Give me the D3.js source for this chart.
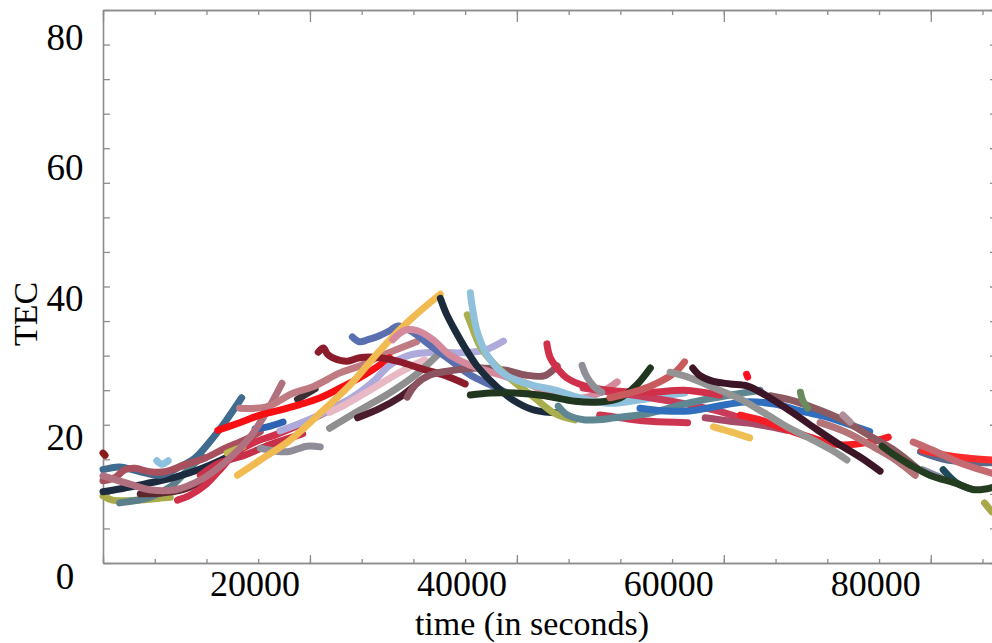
<!DOCTYPE html>
<html>
<head>
<meta charset="utf-8">
<script src="https://d3js.org/d3.v7.min.js"></script>
<style>
html,body{margin:0;padding:0;background:#ffffff;}
svg{display:block;}
</style>
</head>
<body>
<div id="chart"></div>
<script>
;(function(){

	// -----------------------------------------------------------------
	// Data : every arc is a list of [time in seconds, TEC]
	var xTickLabels = [20000,40000,60000,80000];
	var yTickLabels = [0,20,40,60,80];

	var trackColors = [
		'#a9aa4a','#5c808b','#5c2830','#1c2b3f','#3e6b8e','#a9505f','#d0304a','#c82f48',
		'#8ec0e0','#c0b850','#908c98','#2d63b2','#8b1a1a','#b0707f','#3b2e33','#bf7a82',
		'#f80f14','#aeaadb','#e8b8c4','#8f8f90','#4b1c2e','#8c1c2c','#5a6fb0','#f2bb52',
		'#8a5560','#d48a9c','#1b2b3b','#a9af4f','#8fc0dc','#c83c5a','#cc3650','#5e8792',
		'#d1304a','#8f8f98','#20361f','#c95a5e','#2f6fbd','#a84a68','#efbf55','#f51c24',
		'#ff1020','#8c5a60','#6a8a60','#b09098','#b57478','#949494','#3c1626','#5a6a8a',
		'#ff2a2a','#c46a70','#8a8aa8','#1f4a5a','#243d20','#a8a848'
	];

	var trackPoints = [
		[[0,9.7],[900,9.1],[2100,9.0],[3600,9.1],[5000,9.3],[6500,9.5]],
		[[1600,8.7],[4500,9.5],[6500,11.0],[7700,12.7],[8900,14.5],[9700,15.3]],
		[[3600,10.0],[5500,10.1],[7700,10.6],[9400,11.7],[11300,13.5]],
		[[0,10.3],[1600,10.7],[3600,11.3],[5500,11.9],[7400,12.6],[9400,13.6],[11300,14.8],[13200,16.3]],
		[[0,13.5],[1600,13.9],[3600,13.2],[5500,12.7],[7400,13.9],[8900,15.2],[10300,17.5],[11800,20.4],[13400,23.9]],
		[[0,11.9],[1200,12.4],[2100,13.5],[3100,13.7],[4500,13.2],[6000,13.2],[7900,14.2],[9900,15.2],[11800,16.6],[13700,17.8],[15200,19.0]],
		[[7200,9.1],[8400,9.8],[9900,11.3],[11300,13.5],[12800,15.9],[14700,17.5],[16600,18.5],[19000,20.0],[21500,21.8],[23400,23.3]],
		[[9400,12.7],[11300,14.5],[13700,15.6],[16100,17.1],[18100,18.1],[19300,18.7]],
		[[5200,14.8],[5700,14.3],[6300,14.8]],
		[[12000,15.9],[13500,16.8]],
		[[15200,16.6],[17800,16.1],[19700,16.9],[21000,16.8]],
		[[14700,19.4],[15900,19.7],[17400,20.4]],
		[[0,15.9],[200,15.6]],
		[[0,12.6],[2600,11.4],[4500,10.6],[7000,10.6],[9400,12.0],[11800,14.6],[14200,18.2],[15900,22.1],[17300,26.0]],
		[[18800,23.7],[20500,25.2]],
		[[13200,22.4],[15800,22.6],[18400,24.6],[20300,25.5],[22900,27.5],[24800,28.5],[26800,29.9],[30300,32.0]],
		[[11100,19.2],[13200,20.3],[15200,21.4],[17100,22.1],[19000,22.9],[21000,23.9],[22900,25.3],[24800,26.8],[26300,28.2],[27700,29.7]],
		[[17100,19.1],[20000,20.8],[22900,22.9],[24800,24.7],[26300,26.5],[27700,28.6],[29700,30.1],[32100,30.5],[34500,30.4],[36900,30.8],[38700,32.1]],
		[[21900,21.8],[23400,22.9],[25800,25.0],[28700,27.6],[31100,29.4]],
		[[21900,19.5],[24800,22.1],[27700,24.6],[30200,27.2],[32600,30.5]],
		[[24600,21.0],[26800,22.4],[28700,24.0],[30000,25.5]],
		[[20800,30.5],[21300,31.1],[21700,30.2],[22200,29.7],[23600,29.2],[24800,29.7],[26800,29.7],[28700,29.1],[30600,28.2],[33100,27.1],[35000,25.9]],
		[[24100,32.7],[24800,32.0],[25600,32.3],[26600,32.8],[27700,33.6],[28500,34.3],[29700,33.6],[31600,31.5],[33500,29.4],[35500,27.2],[37400,25.8],[38900,24.7]],
		[[13000,12.7],[15200,14.9],[18100,17.8],[21000,21.7],[23900,25.8],[26800,30.8],[29700,35.2],[32600,38.9]],
		[[29400,24.0],[30200,25.8],[31600,27.2],[34000,27.9],[36400,28.2],[38900,27.9],[40800,27.2],[42700,27.1],[43900,28.5]],
		[[28000,32.3],[29200,33.7],[30400,33.6],[31900,32.3],[33500,30.1],[35500,28.6],[38400,27.2],[41300,25.8],[44200,23.9],[46600,23.9],[48500,25.0],[49700,26.2]],
		[[32600,38.3],[33200,36.0],[34000,33.7],[35000,31.1],[36100,28.6],[37700,26.0],[39600,23.6],[41700,22.1],[44200,21.7]],
		[[35200,35.9],[35700,34.0],[36400,31.5],[37600,29.1],[39500,26.5],[41700,23.9],[43700,21.6],[45600,20.7]],
		[[35500,39.1],[35700,36.9],[36200,33.3],[37200,29.9],[38900,27.2],[41300,25.8],[43700,25.0],[46100,23.9],[49000,23.1],[51900,23.6],[54300,24.2],[56200,24.6]],
		[[46400,25.3],[49700,24.6],[52900,23.9],[56100,23.1],[59100,22.1],[61600,21.0]],
		[[48000,21.4],[50000,21.0],[52900,20.5],[56500,20.3]],
		[[44000,22.7],[44900,21.4],[46600,20.7],[49500,21.0],[52900,21.7],[56200,23.0],[59100,23.9],[63500,25.0]],
		[[42900,31.7],[43200,29.8],[43900,28.2],[44800,26.8],[46600,25.6],[49500,24.9],[52900,24.7],[56200,25.0],[59600,24.3]],
		[[46300,28.6],[46700,27.1],[47400,25.6],[48200,24.7]],
		[[35500,24.3],[37400,24.6],[39800,24.6],[42700,24.2],[45600,23.4],[48000,23.3],[50000,23.9],[51600,25.8],[52900,28.2]],
		[[49000,23.9],[51900,25.0],[53800,26.2],[55300,27.6],[56200,29.1]],
		[[51900,22.4],[54300,22.0],[56700,22.0],[59100,22.6],[62000,23.3],[64900,23.0],[67400,22.0],[70000,21.1],[72200,20.0],[74100,19.0]],
		[[58200,21.0],[60600,20.5],[63000,20.1],[66100,19.2]],
		[[59000,19.7],[60600,19.0],[62500,18.1]],
		[[61600,21.4],[63500,20.7],[65400,19.7],[68300,18.2],[71200,17.1],[74100,17.5],[75900,18.2]],
		[[62200,27.3],[62300,26.9]],
		[[64500,24.2],[66400,23.6],[68800,22.4],[71500,20.7],[74100,18.4],[76500,16.3],[78700,13.7]],
		[[67400,24.7],[67600,23.6],[68100,22.4]],
		[[71500,21.4],[72200,20.4]],
		[[69300,20.3],[71700,19.0],[74100,17.1],[76300,15.2],[78500,12.7]],
		[[54800,27.6],[56700,26.8],[59100,25.3],[61600,23.7],[63800,21.8],[66100,19.7],[68600,17.8],[70700,16.1],[71900,14.9]],
		[[57000,28.2],[57700,27.1],[58900,26.3],[60600,25.9],[62300,25.6],[64000,24.3],[66400,22.0],[68800,19.5],[71200,17.1],[73200,15.3],[75100,13.3]],
		[[79000,16.1],[81600,14.9],[85900,14.5]],
		[[79200,16.3],[81900,15.5],[83500,15.2],[85900,14.9]],
		[[78300,17.5],[80200,16.3],[82800,14.5],[85900,13.0]],
		[[79200,13.5],[80900,12.4]],
		[[81200,13.5],[82500,11.6],[84100,10.6]],
		[[75300,16.9],[76500,15.6],[78000,14.2],[79900,12.7],[82300,11.6],[84300,10.6],[85900,10.9]],
		[[85200,8.7],[85900,7.4]]
	];

	// -----------------------------------------------------------------
	var width = 992;
	var height = 643;
	var axisColor = '#8c8c8c';
	var serif = '"Liberation Serif","Times New Roman",serif';

	var x = d3.scaleLinear().domain([0,86400]).range([103,997]);
	var y = d3.scaleLinear().domain([0,80]).range([563,10]);

	var svg = d3.select('#chart')
		.append('svg')
		.attr('width',width)
		.attr('height',height);

	// Frame and ticks
	function styleAxis(g){
		g.selectAll('path.domain').attr('stroke',axisColor).attr('stroke-width',1.6);
		g.selectAll('.tick line').attr('stroke',axisColor).attr('stroke-width',1.3);
	};

	var minorX = d3.range(0,86401,5000);
	var majorX = d3.range(0,86401,20000);
	var yTicks = d3.range(0,81,5);

	svg.append('g')
		.attr('transform','translate(0,'+y(0)+')')
		.call(d3.axisBottom(x).tickValues(minorX).tickSize(-4).tickSizeOuter(0).tickFormat(''))
		.call(styleAxis);
	svg.append('g')
		.attr('transform','translate(0,'+y(0)+')')
		.call(d3.axisBottom(x).tickValues(majorX).tickSize(-8).tickSizeOuter(0).tickFormat(''))
		.call(styleAxis);
	svg.append('g')
		.attr('transform','translate(0,'+y(80)+')')
		.call(d3.axisTop(x).tickValues(minorX).tickSize(-5).tickSizeOuter(0).tickFormat(''))
		.call(styleAxis);
	svg.append('g')
		.attr('transform','translate(0,'+y(80)+')')
		.call(d3.axisTop(x).tickValues(majorX).tickSize(-12).tickSizeOuter(0).tickFormat(''))
		.call(styleAxis);
	svg.append('g')
		.attr('transform','translate('+x(0)+',0)')
		.call(d3.axisLeft(y).tickValues(yTicks).tickSize(-7).tickSizeOuter(0).tickFormat(''))
		.call(styleAxis);
	svg.append('g')
		.attr('transform','translate('+x(86400)+',0)')
		.call(d3.axisRight(y).tickValues(yTicks).tickSize(-7).tickSizeOuter(0).tickFormat(''))
		.call(styleAxis);

	// Arcs
	var line = d3.line()
		.x(function(d){ return x(d[0]); })
		.y(function(d){ return y(d[1]); })
		.curve(d3.curveCatmullRom.alpha(0.5));

	svg.append('g')
		.attr('class','tracks')
		.selectAll('path')
		.data(trackPoints)
		.enter()
		.append('path')
		.attr('d',line)
		.attr('fill','none')
		.attr('stroke',function(d,i){ return trackColors[i]; })
		.attr('stroke-width',7)
		.attr('stroke-linecap','round')
		.attr('stroke-linejoin','round');

	// Tick labels (the printed labels sit a little off their ticks)
	var yLab = d3.scaleLinear().domain([0,40,80]).range([y(0)+26, y(40)+24, y(80)+40]);

	svg.append('g')
		.selectAll('text')
		.data(yTickLabels)
		.enter()
		.append('text')
		.attr('x',65)
		.attr('y',function(d){ return yLab(d); })
		.attr('text-anchor','middle')
		.attr('font-family',serif)
		.attr('font-size',37)
		.text(function(d){ return d; });

	svg.append('g')
		.selectAll('text')
		.data(xTickLabels)
		.enter()
		.append('text')
		.attr('x',function(d){ return x(d) - 55; })
		.attr('y',596)
		.attr('text-anchor','middle')
		.attr('font-family',serif)
		.attr('font-size',36)
		.text(function(d){ return d; });

	// Axis titles
	svg.append('text')
		.attr('x',532)
		.attr('y',635)
		.attr('text-anchor','middle')
		.attr('font-family',serif)
		.attr('font-size',34)
		.text('time (in seconds)');

	svg.append('text')
		.attr('transform','translate(37,314) rotate(-90)')
		.attr('text-anchor','middle')
		.attr('font-family',serif)
		.attr('font-size',34)
		.text('TEC');
})();
</script>
</body>
</html>
